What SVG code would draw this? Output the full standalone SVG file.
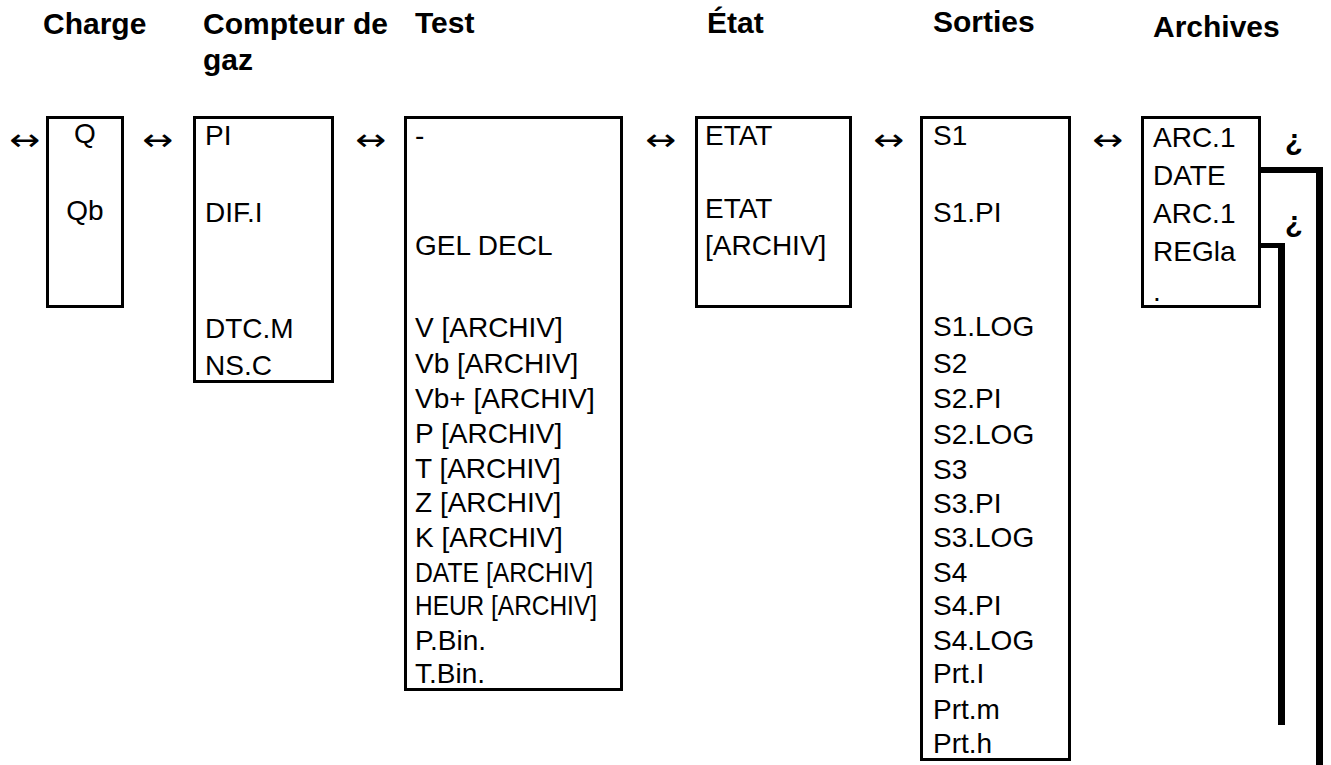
<svg xmlns="http://www.w3.org/2000/svg" width="1331" height="765" viewBox="0 0 1331 765">
<style>
.h{font-family:"Liberation Sans",Arial,sans-serif;font-weight:bold;font-size:30px;fill:#000}
.t{font-family:"Liberation Sans",Arial,sans-serif;font-size:28px;fill:#000}
.a{font-family:"DejaVu Sans",sans-serif;font-size:30px;fill:#000}
.box{fill:#fff;stroke:#000;stroke-width:3}
.q{font-family:"Liberation Sans",Arial,sans-serif;font-weight:bold;font-size:29px;fill:#000}
</style>
<rect width="1331" height="765" fill="#fff"/>
<g id="headers">
<text class="h" x="43" y="34">Charge</text>
<text class="h" x="203" y="34">Compteur de</text>
<text class="h" x="203" y="70">gaz</text>
<text class="h" x="415" y="33">Test</text>
<text class="h" x="707" y="33">État</text>
<text class="h" x="933" y="32">Sorties</text>
<text class="h" x="1153" y="37">Archives</text>
</g>
<g id="arrows">
<text class="a" x="9" y="150" textLength="31" lengthAdjust="spacingAndGlyphs">↔</text>
<text class="a" x="142" y="150" textLength="31" lengthAdjust="spacingAndGlyphs">↔</text>
<text class="a" x="355" y="150" textLength="31" lengthAdjust="spacingAndGlyphs">↔</text>
<text class="a" x="645" y="150" textLength="31" lengthAdjust="spacingAndGlyphs">↔</text>
<text class="a" x="873" y="150" textLength="31" lengthAdjust="spacingAndGlyphs">↔</text>
<text class="a" x="1092" y="150" textLength="31" lengthAdjust="spacingAndGlyphs">↔</text>
</g>
<g id="charge">
<rect class="box" x="47.5" y="117.5" width="75" height="189"/>
<text class="t" x="85" y="143" text-anchor="middle">Q</text>
<text class="t" x="85" y="220" text-anchor="middle">Qb</text>
</g>
<g id="compteur">
<rect class="box" x="194.5" y="117.5" width="138" height="264"/>
<text class="t" x="205" y="145">PI</text>
<text class="t" x="205" y="222">DIF.I</text>
<text class="t" x="205" y="338">DTC.M</text>
<text class="t" x="205" y="375">NS.C</text>
</g>
<g id="test">
<rect class="box" x="405.5" y="117.5" width="216" height="572"/>
<text class="t" x="415" y="145">-</text>
<text class="t" x="415" y="255">GEL DECL</text>
<text class="t" x="415" y="337">V [ARCHIV]</text>
<text class="t" x="415" y="373">Vb [ARCHIV]</text>
<text class="t" x="415" y="408">Vb+ [ARCHIV]</text>
<text class="t" x="415" y="443">P [ARCHIV]</text>
<text class="t" x="415" y="478">T [ARCHIV]</text>
<text class="t" x="415" y="512">Z [ARCHIV]</text>
<text class="t" x="415" y="547">K [ARCHIV]</text>
<text class="t" x="415" y="582" textLength="178" lengthAdjust="spacingAndGlyphs">DATE [ARCHIV]</text>
<text class="t" x="415" y="615" textLength="182" lengthAdjust="spacingAndGlyphs">HEUR [ARCHIV]</text>
<text class="t" x="415" y="650">P.Bin.</text>
<text class="t" x="415" y="683">T.Bin.</text>
</g>
<g id="etat">
<rect class="box" x="696.5" y="117.5" width="154" height="189"/>
<text class="t" x="705" y="145">ETAT</text>
<text class="t" x="705" y="218">ETAT</text>
<text class="t" x="705" y="255">[ARCHIV]</text>
</g>
<g id="sorties">
<rect class="box" x="921.5" y="117.5" width="148" height="642"/>
<text class="t" x="933" y="145">S1</text>
<text class="t" x="933" y="222">S1.PI</text>
<text class="t" x="933" y="336">S1.LOG</text>
<text class="t" x="933" y="373">S2</text>
<text class="t" x="933" y="408">S2.PI</text>
<text class="t" x="933" y="444">S2.LOG</text>
<text class="t" x="933" y="479">S3</text>
<text class="t" x="933" y="513">S3.PI</text>
<text class="t" x="933" y="547">S3.LOG</text>
<text class="t" x="933" y="582">S4</text>
<text class="t" x="933" y="615">S4.PI</text>
<text class="t" x="933" y="650">S4.LOG</text>
<text class="t" x="933" y="683">Prt.I</text>
<text class="t" x="933" y="719">Prt.m</text>
<text class="t" x="933" y="753">Prt.h</text>
</g>
<g id="archives">
<rect class="box" x="1142.5" y="117.5" width="117" height="189"/>
<text class="t" x="1153" y="147">ARC.1</text>
<text class="t" x="1153" y="185">DATE</text>
<text class="t" x="1153" y="223">ARC.1</text>
<text class="t" x="1153" y="261">REGla</text>
<text class="t" x="1153" y="301">.</text>
<text class="q" x="1285" y="150">¿</text>
<text class="q" x="1285" y="232">¿</text>
</g>
<g id="connectors" fill="#000">
<rect x="1261" y="167" width="62" height="6"/>
<rect x="1316" y="167" width="7" height="598"/>
<rect x="1261" y="243" width="24" height="5"/>
<rect x="1278" y="243" width="7" height="482"/>
</g>
</svg>
